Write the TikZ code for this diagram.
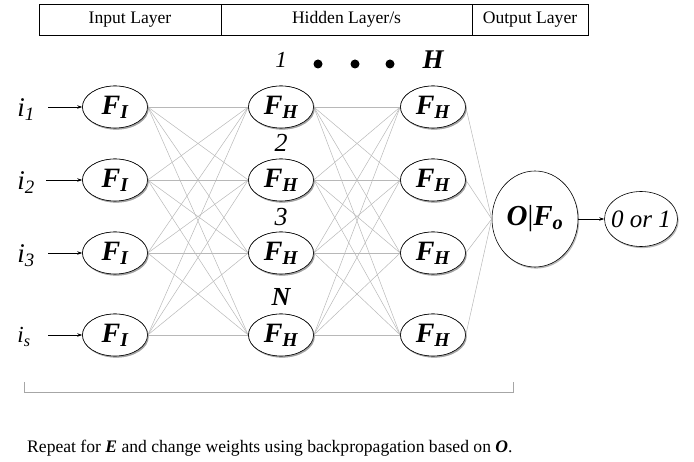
\documentclass[tikz,border=0pt]{standalone}
\usepackage{fontspec}
\setmainfont{Liberation Serif}
\usetikzlibrary{shapes.geometric,shadows,arrows.meta}
\begin{document}
\begin{tikzpicture}[x=1pt,y=-1pt,
  shad/.style={drop shadow={shadow xshift=1.2pt,shadow yshift=-1.6pt,fill=black!40,opacity=0.7}},
  neuron/.style={ellipse,draw=black,line width=0.6pt,fill=white,minimum width=65pt,minimum height=42pt,inner sep=0pt,shad,font=\fontsize{28}{30}\selectfont\bfseries\itshape},
  cell/.style={rectangle,draw=black,line width=0.6pt,minimum height=31pt,inner sep=0pt,font=\fontsize{17.6}{20}\selectfont},
  wire/.style={draw=black!28,line width=0.5pt},
  inarrow/.style={-{Stealth[length=5pt,width=3.5pt]},line width=0.6pt},
  inlabel/.style={font=\fontsize{27}{29}\selectfont\itshape,inner sep=0pt},
  toplabel/.style={font=\fontsize{26}{28}\selectfont\itshape,inner sep=0pt},
  dotmark/.style={circle,fill=black,minimum size=9pt,inner sep=0pt}]
\useasboundingbox (0,0) rectangle (694,462);
% header table
\node[cell,minimum width=182pt] (h1) at (130,19.5) {Input Layer};
\node[cell,minimum width=251pt] (h2) at (346.5,19.5) {Hidden Layer/s};
\node[cell,minimum width=116pt] (h3) at (530,19.5) {Output Layer};
% top labels
\node[toplabel,font=\fontsize{23}{26}\selectfont\itshape] (t1) at (281,60) {1};
\node[dotmark] (d1) at (318,64) {};
\node[dotmark] (d2) at (355,64) {};
\node[dotmark] (d3) at (390,64) {};
\node[toplabel,font=\fontsize{27}{30}\selectfont\bfseries\itshape] (tH) at (433,60) {H};
% neurons
\foreach \r/\y in {1/107,2/180,3/253,4/335}{
  \node[neuron] (a\r) at (115,\y) {F\textsubscript{I}};
  \node[neuron] (b\r) at (281,\y) {F\textsubscript{H}};
  \node[neuron] (c\r) at (433,\y) {F\textsubscript{H}};
}
\node[toplabel] (l2) at (281,143) {2};
\node[toplabel] (l3) at (281,217) {3};
\node[toplabel,font=\fontsize{26}{28}\selectfont\bfseries\itshape] (lN) at (281,297) {N};
% output
\node[ellipse,draw=black,line width=0.6pt,fill=white,minimum width=86pt,minimum height=96pt,inner sep=0pt,shad,font=\fontsize{29}{31}\selectfont\bfseries\itshape] (o) at (535,219) {O{\normalfont|}F\textsubscript{o}};
\node[ellipse,draw=black,line width=0.6pt,fill=white,minimum width=73pt,minimum height=55pt,inner ysep=0pt,inner xsep=-9pt,shad,font=\fontsize{25}{27}\selectfont\itshape] (res) at (641,219) {0 or 1};
% wires
\foreach \i in {1,...,4}{
  \foreach \j in {1,...,4}{
    \draw[wire] (a\i.east) -- (b\j.west);
    \draw[wire] (b\i.east) -- (c\j.west);
  }
  \draw[wire] (c\i.east) -- (o.west);
}
% redraw neurons on top of the wires
\foreach \r/\y in {1/107,2/180,3/253,4/335}{
  \node[neuron] at (115,\y) {F\textsubscript{I}};
  \node[neuron] at (281,\y) {F\textsubscript{H}};
  \node[neuron] at (433,\y) {F\textsubscript{H}};
}
\draw[inarrow] (o.east) -- (res.west);
% inputs
\node[inlabel] (i1) at (26,110) {i\textsubscript{1}};
\node[inlabel] (i2) at (26,183) {i\textsubscript{2}};
\node[inlabel] (i3) at (26,256) {i\textsubscript{3}};
\node[inlabel,font=\fontsize{23}{26}\selectfont\itshape] (is) at (24,337) {i\textsubscript{s}};
\coordinate (s1) at (48,107);
\coordinate (s2) at (46,180);
\coordinate (s3) at (48,253);
\coordinate (s4) at (48,335);
\foreach \r in {1,...,4}{\draw[inarrow] (s\r) -- (a\r.west);}
% bracket
\coordinate (bl) at (24,382);
\coordinate (br) at (513,382);
\draw[black!35,line width=0.6pt] (bl) -- ++(0,10) -| (br);
% caption
\node[anchor=west,inner sep=0pt,font=\fontsize{17.6}{20}\selectfont] (cap) at (27,448) {Repeat for \textbf{\textit{E}} and change weights using backpropagation based on \textbf{\textit{O}}.};
\end{tikzpicture}
\end{document}
